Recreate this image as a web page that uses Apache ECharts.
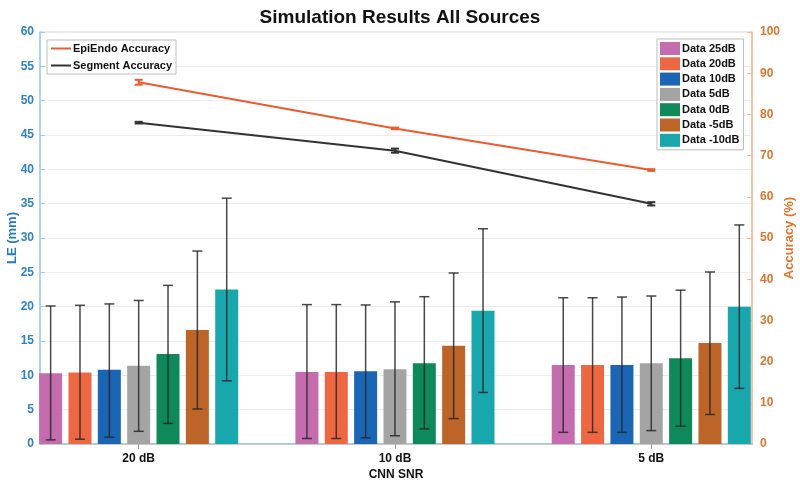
<!DOCTYPE html>
<html>
<head>
<meta charset="utf-8">
<script src="https://cdn.jsdelivr.net/npm/echarts@6/dist/echarts.min.js"></script>
<style>html,body{margin:0;padding:0;background:#fff}#c{width:800px;height:485px}</style>
</head>
<body>
<div id="c"></div>
<script>
// ---- data ----
var categories = ['20 dB', '10 dB', '5 dB'];
var seriesNames = ['Data 25dB', 'Data 20dB', 'Data 10dB', 'Data 5dB', 'Data 0dB', 'Data -5dB', 'Data -10dB'];
// mean LE (mm) per series, per category (20dB,10dB,5dB)
var le25 = [10.3, 10.5, 11.5];
var le20 = [10.4, 10.5, 11.5];
var le10 = [10.8, 10.6, 11.5];
var le5 = [11.4, 10.9, 11.75];
var le0 = [13.1, 11.75, 12.5];
var leM5 = [16.6, 14.3, 14.7];
var leM10 = [22.5, 19.4, 20.0];
// error bar upper / lower ends
var hi25 = [20.1, 20.3, 21.3], lo25 = [0.6, 0.8, 1.7];
var hi20 = [20.2, 20.3, 21.3], lo20 = [0.7, 0.8, 1.7];
var hi10 = [20.4, 20.25, 21.4], lo10 = [1.0, 0.9, 1.7];
var hi5 = [20.9, 20.7, 21.55], lo5 = [1.85, 1.2, 1.95];
var hi0 = [23.1, 21.45, 22.4], lo0 = [3.0, 2.2, 2.6];
var hiM5 = [28.1, 24.9, 25.05], loM5 = [5.1, 3.7, 4.3];
var hiM10 = [35.8, 31.35, 31.9], loM10 = [9.2, 7.5, 8.1];
// accuracy lines (%)
var epiEndo = [87.8, 76.6, 66.5];
var epiEndoErr = [0.6, 0.2, 0.2];
var segment = [78.0, 71.2, 58.3];
var segmentErr = [0.2, 0.5, 0.4];
var leftTicks = [0, 60, 5];
var rightTicks = [0, 100, 10];

var means = [le25, le20, le10, le5, le0, leM5, leM10];
var his = [hi25, hi20, hi10, hi5, hi0, hiM5, hiM10];
var los = [lo25, lo20, lo10, lo5, lo0, loM5, loM10];
var colors = ['#c46cae', '#ee6743', '#1a66b5', '#a4a4a4', '#10895a', '#bd6428', '#19a7ae'];

var spacing = 0.1145; // group offset per bar (axis units)
var series = [];
seriesNames.forEach(function (name, i) {
  var off = (i - 3) * spacing;
  series.push({
    name: name, type: 'bar', xAxisIndex: 0, yAxisIndex: 0,
    barWidth: 23, barGap: '-100%',
    itemStyle: { color: colors[i] },
    data: means[i].map(function (v, k) { return [k + 1 + off, v]; }),
    z: 2
  });
});
function errRender(capW, color, width) {
  return function (params, api) {
    var x = api.value(0);
    var p1 = api.coord([x, api.value(1)]);
    var p2 = api.coord([x, api.value(2)]);
    var st = { stroke: color, lineWidth: width };
    return { type: 'group', children: [
      { type: 'line', shape: { x1: p1[0], y1: p1[1], x2: p2[0], y2: p2[1] }, style: st },
      { type: 'line', shape: { x1: p1[0] - capW / 2, y1: p1[1], x2: p1[0] + capW / 2, y2: p1[1] }, style: st },
      { type: 'line', shape: { x1: p2[0] - capW / 2, y1: p2[1], x2: p2[0] + capW / 2, y2: p2[1] }, style: st }
    ]};
  };
}
seriesNames.forEach(function (name, i) {
  var off = (i - 3) * spacing;
  series.push({
    type: 'custom', xAxisIndex: 0, yAxisIndex: 0, z: 5, silent: true,
    renderItem: errRender(10, 'rgba(40,40,40,0.85)', 1.5),
    data: means[i].map(function (v, k) { return [k + 1 + off, los[i][k], his[i][k]]; })
  });
});
series.push({
  name: 'EpiEndo Accuracy', type: 'line', xAxisIndex: 0, yAxisIndex: 1,
  symbol: 'none', lineStyle: { color: '#ee5a30', width: 2 }, itemStyle: { color: '#ee5a30' },
  data: epiEndo.map(function (v, k) { return [k + 1, v]; }), z: 6
});
series.push({
  name: 'Segment Accuracy', type: 'line', xAxisIndex: 0, yAxisIndex: 1,
  symbol: 'none', lineStyle: { color: '#333333', width: 2 }, itemStyle: { color: '#333333' },
  data: segment.map(function (v, k) { return [k + 1, v]; }), z: 6
});
series.push({
  type: 'custom', xAxisIndex: 0, yAxisIndex: 1, z: 7, silent: true,
  renderItem: errRender(8, '#ee5a30', 2),
  data: epiEndo.map(function (v, k) { return [k + 1, v - epiEndoErr[k], v + epiEndoErr[k]]; })
});
series.push({
  type: 'custom', xAxisIndex: 0, yAxisIndex: 1, z: 7, silent: true,
  renderItem: errRender(8, '#333333', 2),
  data: segment.map(function (v, k) { return [k + 1, v - segmentErr[k], v + segmentErr[k]]; })
});

var xMin = 0.615, xMax = 3.393;
var font = 'Liberation Sans, Arial, sans-serif';
var option = {
  animation: false,
  backgroundColor: '#fff',
  title: { text: 'Simulation Results All Sources', left: 'center', top: 3,
    textStyle: { fontFamily: font, fontSize: 19, fontWeight: 'bold', color: '#111' } },
  grid: { left: 40, right: 48, top: 32, bottom: 41, containLabel: false, outerBoundsMode: 'none',
    show: true, borderColor: '#d0d0d0', borderWidth: 1 },
  legend: [
    { data: ['EpiEndo Accuracy', 'Segment Accuracy'], orient: 'vertical', left: 47, top: 40,
      backgroundColor: '#fff', borderColor: '#bdbdbd', borderWidth: 1, padding: [3, 4, 3, 4],
      itemWidth: 20, itemHeight: 2, itemGap: 6, icon: 'rect',
      textStyle: { fontFamily: font, fontSize: 11, fontWeight: 'bold', color: '#111', padding: [0, 0, 0, -3] } },
    { data: seriesNames, orient: 'vertical', left: 657, top: 39,
      backgroundColor: '#fff', borderColor: '#bdbdbd', borderWidth: 1, padding: [3, 4, 3, 3],
      itemWidth: 20, itemHeight: 13, itemGap: 2.3, icon: 'rect',
      textStyle: { fontFamily: font, fontSize: 11, fontWeight: 'bold', color: '#111', padding: [0, 0, 0, -3] } }
  ],
  xAxis: [
    { type: 'value', min: xMin, max: xMax, position: 'bottom',
      name: 'CNN SNR', nameLocation: 'middle', nameGap: 25, nameMoveOverlap: false,
      nameTextStyle: { fontFamily: font, fontSize: 12, fontWeight: 'bold', color: '#111' },
      axisLine: { show: true, lineStyle: { color: '#9ccdee', width: 2 } },
      axisTick: { show: false },
      splitLine: { show: false },
      axisLabel: { customValues: [1, 2, 3], margin: 9,
        formatter: function (v) { return categories[Math.round(v) - 1] || ''; },
        fontFamily: font, fontSize: 12, fontWeight: 'bold', color: '#111' } },
    { type: 'value', min: xMin, max: xMax, position: 'top',
      axisLine: { show: true, lineStyle: { color: '#c8c8c8', width: 1 } },
      axisTick: { show: true, inside: true, length: 5, customValues: [1, 2, 3], lineStyle: { color: '#999' } },
      axisLabel: { show: false }, splitLine: { show: false } }
  ],
  yAxis: [
    { type: 'value', min: leftTicks[0], max: leftTicks[1], interval: leftTicks[2], position: 'left',
      name: 'LE (mm)', nameLocation: 'middle', nameGap: 21, nameMoveOverlap: false,
      nameTextStyle: { fontFamily: font, fontSize: 13, fontWeight: 'bold', color: '#2878bd' },
      axisLine: { show: true, lineStyle: { color: '#9ccdee', width: 1.5 } },
      axisTick: { show: true, inside: true, length: 5, lineStyle: { color: '#9ccdee' } },
      axisLabel: { margin: 6, fontFamily: font, fontSize: 12, fontWeight: 'bold', color: '#2f82c4' },
      splitLine: { show: true, lineStyle: { color: '#ececec', width: 1 } } },
    { type: 'value', min: rightTicks[0], max: rightTicks[1], interval: rightTicks[2], position: 'right',
      name: 'Accuracy (%)', nameLocation: 'middle', nameGap: 31, nameMoveOverlap: false,
      nameTextStyle: { fontFamily: font, fontSize: 13, fontWeight: 'bold', color: '#e0742f' },
      axisLine: { show: true, lineStyle: { color: '#f3b995', width: 1.5 } },
      axisTick: { show: true, inside: true, length: 5, lineStyle: { color: '#f3b995' } },
      axisLabel: { margin: 8, fontFamily: font, fontSize: 12, fontWeight: 'bold', color: '#e0742f' },
      splitLine: { show: false } }
  ],
  series: series
};
var chart = echarts.init(document.getElementById('c'), null, { renderer: 'canvas' });
chart.setOption(option);
</script>
</body>
</html>
